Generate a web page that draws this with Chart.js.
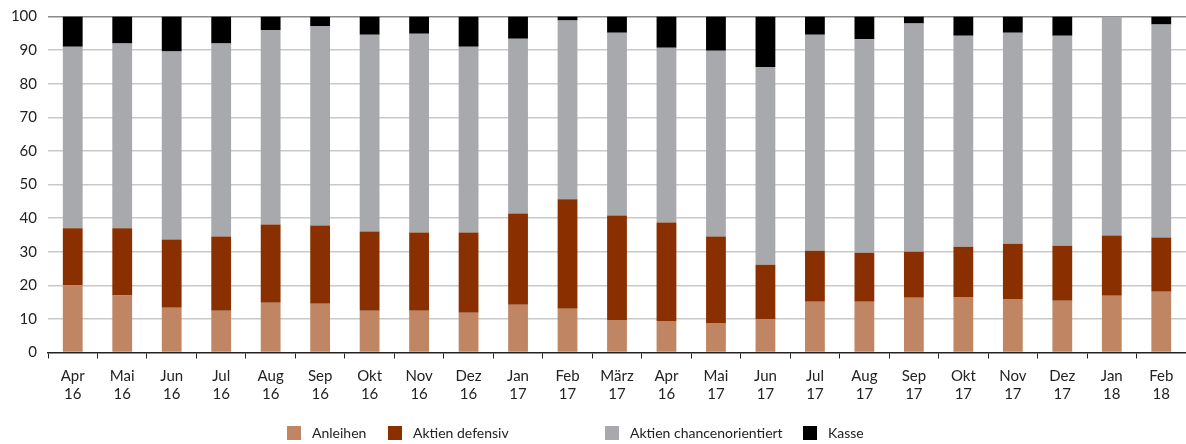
<!DOCTYPE html>
<html>
<head>
<meta charset="utf-8">
<script src="https://cdn.jsdelivr.net/npm/chart.js@4/dist/chart.umd.min.js"></script>
<style>
  html, body { margin: 0; padding: 0; background: #fff; }
  #wrap { position: relative; width: 1186px; height: 444px; }
  #legend { position: absolute; left: 0; top: 425px; width: 1186px; height: 16px;
            font-family: Lato, "Open Sans", sans-serif; font-size: 14px; color: #222; }
  #legend .item { position: absolute; top: 0; white-space: nowrap; line-height: 16px; }
  #legend .box { display: inline-block; width: 14px; height: 14px; vertical-align: top;
                 margin-top: 1px; margin-right: 11px; }
</style>
</head>
<body>
<div id="wrap">
  <canvas id="allocChart"></canvas>
  <div id="legend"></div>
</div>
<script>
// Monate / Jahre (Achsenbeschriftung, zweizeilig)
var months = ['Apr','Mai','Jun','Jul','Aug','Sep','Okt','Nov','Dez','Jan','Feb','März',
              'Apr','Mai','Jun','Jul','Aug','Sep','Okt','Nov','Dez','Jan','Feb'];
var years  = ['16','16','16','16','16','16','16','16','16','17','17','17',
              '16','17','17','17','17','17','17','17','17','18','18'];

// Anteile in %
var anleihen  = [20, 17, 13.3, 12.4, 14.8, 14.5, 12.4, 12.4, 11.8, 14.2, 13, 9.7,
                 9.4, 8.8, 10, 15.1, 15.1, 16.3, 16.5, 15.9, 15.4, 16.9, 18.1];
var defensiv  = [17, 20, 20.3, 22.1, 23.3, 23.3, 23.6, 23.3, 23.9, 27.2, 32.6, 31.1,
                 29.3, 25.7, 16.1, 15.2, 14.6, 13.7, 15, 16.5, 16.4, 17.9, 16.1];
var chancen   = [54, 55, 56, 57.5, 57.9, 59.4, 58.6, 59.2, 55.3, 52, 53.2, 54.4,
                 52, 55.3, 58.9, 64.3, 63.5, 67.9, 62.8, 62.8, 62.5, 65.2, 63.4];
var kasse     = [9, 8, 10.4, 8, 4, 2.8, 5.4, 5.1, 9, 6.6, 1.2, 4.8,
                 9.3, 10.2, 15, 5.4, 6.8, 2.1, 5.7, 4.8, 5.7, 0, 2.4];
var yTicks = [0, 10, 20, 30, 40, 50, 60, 70, 80, 90, 100];

var labels = months.map(function (m, i) { return [m, years[i]]; });
var fontFam = 'Lato, "Open Sans", sans-serif';

var ctx = document.getElementById('allocChart');
var allocChart = new Chart(ctx, {
  type: 'bar',
  data: {
    labels: labels,
    datasets: [
      { label: 'Anleihen', data: anleihen, backgroundColor: '#c08562' },
      { label: 'Aktien defensiv', data: defensiv, backgroundColor: '#8a3000' },
      { label: 'Aktien chancenorientiert', data: chancen, backgroundColor: '#a8a9ad' },
      { label: 'Kasse', data: kasse, backgroundColor: '#000000' }
    ]
  },
  options: {
    responsive: true,
    maintainAspectRatio: false,
    animation: false,
    layout: { padding: { top: 0, right: 0, bottom: 32, left: 0 } },
    datasets: { bar: { barPercentage: 0.4, categoryPercentage: 1, borderWidth: 0 } },
    plugins: {
      legend: { display: false },
      tooltip: { enabled: false }
    },
    scales: {
      x: {
        stacked: true,
        grid: {
          drawOnChartArea: false,
          drawTicks: true,
          tickLength: 6,
          color: '#222'
        },
        border: { display: true, color: '#222', width: 1.5 },
        ticks: {
          maxRotation: 0,
          autoSkip: false,
          padding: 8,
          color: '#222',
          font: { family: fontFam, size: 15, lineHeight: 1.25 }
        }
      },
      y: {
        stacked: true,
        min: 0,
        max: 100,
        afterFit: function (scale) {
          scale.width = 48;
          scale.paddingTop = 16.5;
        },
        afterBuildTicks: function (scale) {
          scale.ticks = yTicks.map(function (v) { return { value: v }; });
        },
        grid: {
          drawTicks: false,
          lineWidth: 1.5,
          color: function (c) {
            if (c.tick && c.tick.value === 100) return '#8a8a8a';
            if (c.tick && c.tick.value === 0) return 'rgba(0,0,0,0)';
            return '#c9c9c9';
          }
        },
        border: { display: false },
        ticks: {
          padding: 11,
          color: '#222',
          font: { family: fontFam, size: 15 }
        }
      }
    }
  }
});

// Legende (unregelmäßige Abstände wie im Original)
var legendLeft = [287, 388, 605, 803];
var legendEl = document.getElementById('legend');
allocChart.data.datasets.forEach(function (ds, i) {
  var item = document.createElement('div');
  item.className = 'item';
  item.style.left = legendLeft[i] + 'px';
  item.innerHTML = '<span class="box" style="background:' + ds.backgroundColor + '"></span>' + ds.label;
  legendEl.appendChild(item);
});
</script>
</body>
</html>
